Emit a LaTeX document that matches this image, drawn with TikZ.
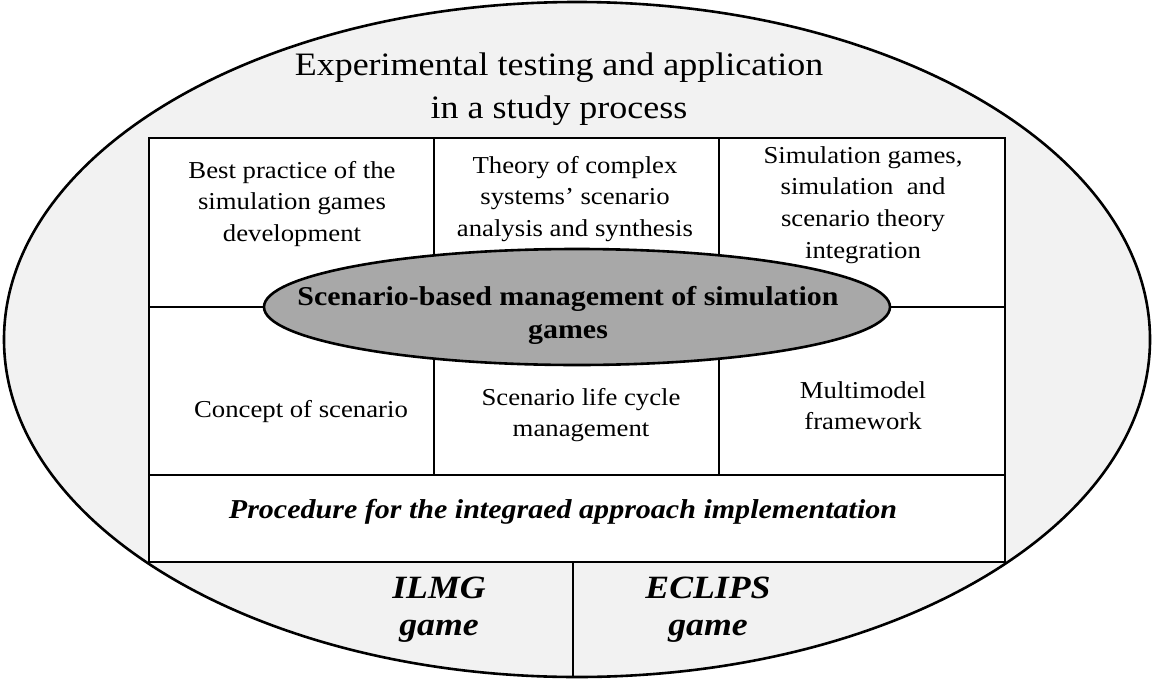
\documentclass[tikz,border=0pt]{standalone}
\usepackage{fontspec}
\setmainfont[FakeStretch=1.1]{Liberation Serif}
\usetikzlibrary{shapes.geometric}
\definecolor{shell}{HTML}{F2F2F2}
\definecolor{hub}{HTML}{A8A8A8}
% centred block of lines whose baseline is that of its first line
\newcommand\linesof[1]{\begin{tabular}[t]{@{}c@{}}#1\end{tabular}}
\tikzset{
  frame/.style={line width=2.6pt},
  txt/.style={inner sep=0pt, anchor=base},
  title/.style={txt, font={\fontsize{32.7}{43}\selectfont}},
  cell/.style={txt, font={\fontsize{24.3}{31.7}\selectfont}},
  hubtext/.style={txt, font={\fontsize{27.2}{33}\selectfont\bfseries}},
  proc/.style={txt, font={\fontsize{27.3}{34}\selectfont\bfseries\itshape}},
  game/.style={txt, font={\fontsize{32.5}{37}\selectfont\bfseries\itshape}},
}
\begin{document}
\begin{tikzpicture}[x=1pt,y=-1pt]
\useasboundingbox (0,0) rectangle (1153,680);

% outer field
\node[ellipse, draw, frame, fill=shell, inner sep=0pt,
      minimum width=1146pt, minimum height=675pt] (outer) at (577,339.5) {};

% table of components
\draw[frame, fill=white] (149,138) rectangle (1005,562);
\draw[frame] (149,307) -- (1005,307);
\draw[frame] (149,475) -- (1005,475);
\draw[frame] (434,138) -- (434,475);
\draw[frame] (719,138) -- (719,475);
\draw[line width=1.8pt] (573,562) -- (573,562 |- outer.south);

% central ellipse
\node[ellipse, draw, frame, fill=hub, inner sep=0pt,
      minimum width=626pt, minimum height=116pt] (core) at (577,307) {};

% texts
\node[title] (head) at (559,75) {\linesof{Experimental testing and application\\in a study process}};

\node[cell] (best) at (292,178) {\linesof{Best practice of the\\simulation games\\development}};
\node[cell] (theory) at (575,173) {\linesof{Theory of complex\\systems’ scenario\\analysis and synthesis}};
\node[cell] (integ) at (863,163) {\linesof{Simulation games,\\simulation\ \ and\\scenario theory\\integration}};

\node[cell] (concept) at (301,417) {Concept of scenario};
\node[cell] (life) at (581,405) {\linesof{Scenario life cycle\\management}};
\node[cell] (multi) at (863,398) {\linesof{Multimodel\\framework}};

\node[hubtext] (hubname) at (568,305) {\linesof{Scenario-based management of simulation\\games}};

\node[proc] (procedure) at (563,518) {Procedure for the integraed approach implementation};

\node[game] (ilmg) at (439,598) {\linesof{ILMG\\game}};
\node[game] (eclips) at (708,598) {\linesof{ECLIPS\\game}};
\end{tikzpicture}
\end{document}
